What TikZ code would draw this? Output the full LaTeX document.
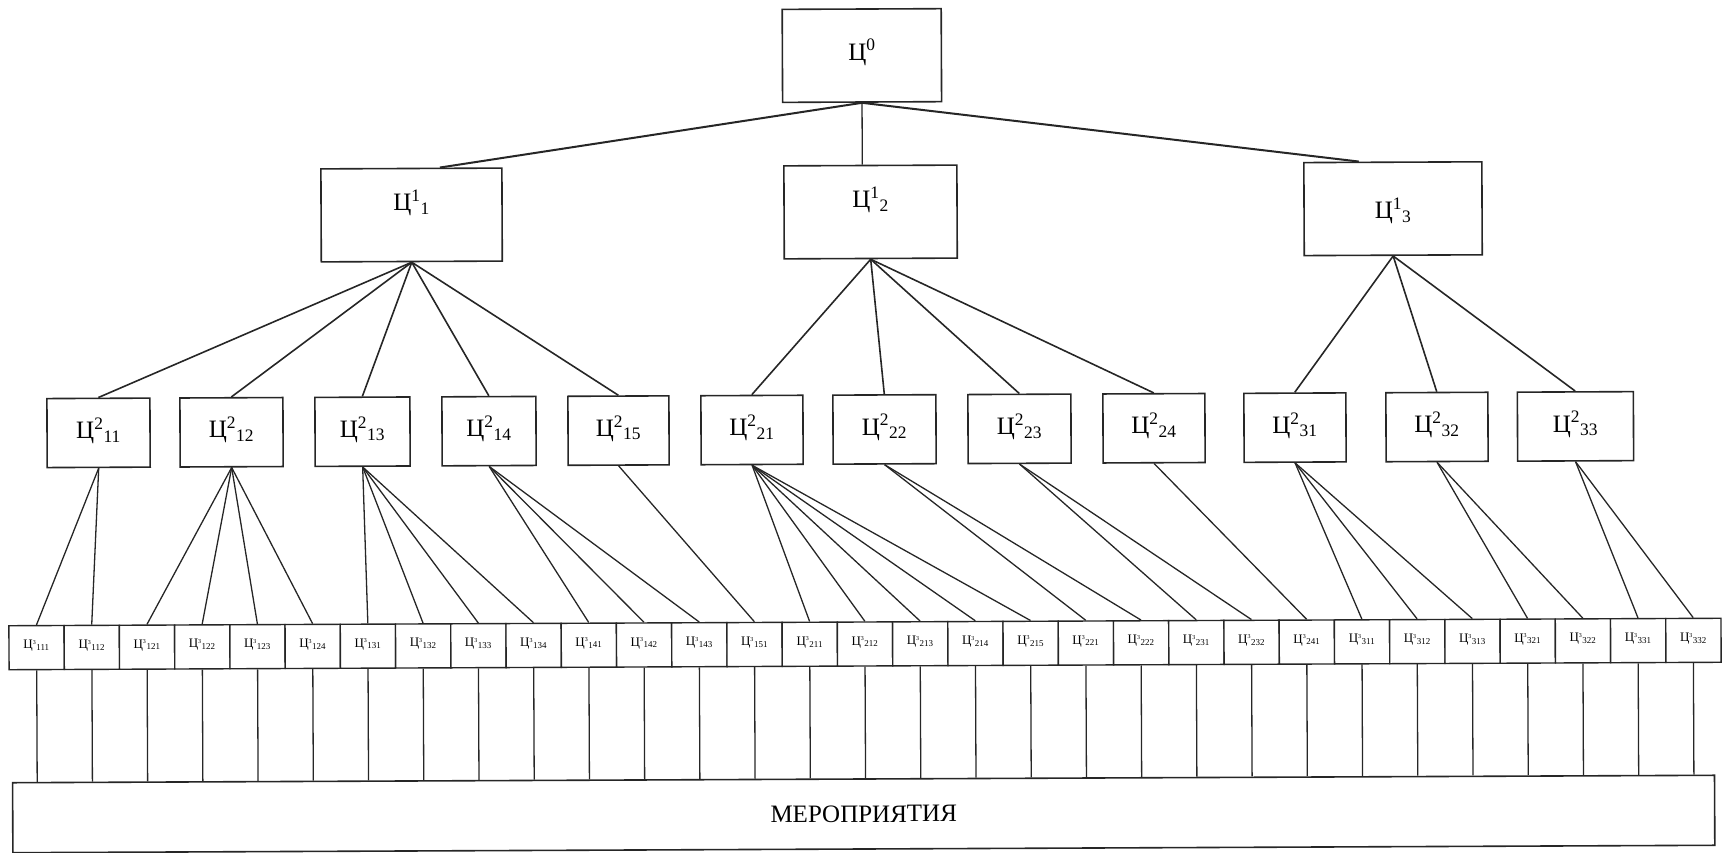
\documentclass[tikz,border=0pt]{standalone}
\usepackage{fontspec}
\setmainfont{Liberation Serif}
\usetikzlibrary{calc}
\begin{document}
\begin{tikzpicture}[x=1pt,y=-1pt,
  bx/.style={draw=black!85, line width=1.6pt, fill=white, inner sep=0pt, font=\fontsize{25}{30}\selectfont},
  lvtwo/.style={bx, minimum height=69pt, text height=18pt, text depth=7pt},
  sm/.style={draw=black!85, line width=1.4pt, fill=white, inner sep=0pt, minimum width=55.23pt, minimum height=44pt, text height=9pt, text depth=7pt, font=\fontsize{13}{15}\selectfont},
  cn/.style={draw=black!85, line width=1.3pt},
  cnt/.style={draw=black!85, line width=2pt},
]
\useasboundingbox (0,0) rectangle (1727,852);
\begin{scope}[rotate around={0.25:(864,426)}, transform shape]
% level 0
\node[bx, minimum width=159pt, minimum height=93pt, text height=20pt, text depth=11pt] (r) at (863.5,55.5) {Ц\textsuperscript{0}};
% level 1
\node[bx, minimum width=181pt, minimum height=93pt, text height=15pt, text depth=24pt] (n1) at (412.5,213) {Ц\textsuperscript{1}\textsubscript{1}};
\node[bx, minimum width=173pt, minimum height=93pt, text height=15pt, text depth=24pt] (n2) at (871.5,212) {Ц\textsuperscript{1}\textsubscript{2}};
\node[bx, minimum width=178pt, minimum height=93pt, text height=26pt, text depth=6pt] (n3) at (1394,211) {Ц\textsuperscript{1}\textsubscript{3}};
% level 2
\foreach \nm/\cx/\w in {11/98.5/103, 12/231.5/103, 13/362.5/95, 14/489/94, 15/618.5/101,
  21/752/102, 22/884.5/103, 23/1019.5/103, 24/1154/102,
  31/1295/102, 32/1437/102, 33/1575.5/116}{
  \node[lvtwo, minimum width=\w pt] (a\nm) at (\cx,429.5) {Ц\textsuperscript{2}\textsubscript{\nm}};
}
% level 3
\foreach \lab [count=\i from 0] in {111,112,121,122,123,124,131,132,133,134,141,142,143,151,211,212,213,214,215,221,222,231,232,241,311,312,313,321,322,331,332}{
  \node[sm] (b\lab) at ({8+55.23*(\i+0.5)},644) {Ц\textsuperscript{\fontsize{6}{7}\selectfont 3}\textsubscript{\fontsize{9}{10}\selectfont\lab}};
}
% activities
\node[bx, minimum width=1702pt, minimum height=70pt] (m) at (862,814) {МЕРОПРИЯТИЯ};
% connectors level 0 -> 1
\draw[cnt] (r.south) -- ([xshift=28.5pt]n1.north);
\draw[cn] (r.south) -- ($(n2.north west)!(r.south)!(n2.north east)$);
\draw[cnt] (r.south) -- ([xshift=-34pt]n3.north);
% level 1 -> 2
\foreach \p/\c in {1/11,1/12,1/13,1/14,1/15,2/21,2/22,2/23,2/24,3/31,3/32,3/33}{
  \draw[cn, line width=1.6pt] (n\p.south) -- (a\c.north);
}
% level 2 -> 3
\foreach \p/\c in {11/111,11/112,12/121,12/122,12/123,12/124,13/131,13/132,13/133,13/134,
  14/141,14/142,14/143,15/151,21/211,21/212,21/213,21/214,21/215,22/221,22/222,
  23/231,23/232,24/241,31/311,31/312,31/313,32/321,32/322,33/331,33/332}{
  \draw[cn] (a\p.south) -- (b\c.north);
}
% level 3 -> activities
\foreach \c in {111,112,121,122,123,124,131,132,133,134,141,142,143,151,211,212,213,214,215,221,222,231,232,241,311,312,313,321,322,331,332}{
  \draw[cn] (b\c.south) -- ($(m.north west)!(b\c.south)!(m.north east)$);
}
\end{scope}
\end{tikzpicture}
\end{document}
